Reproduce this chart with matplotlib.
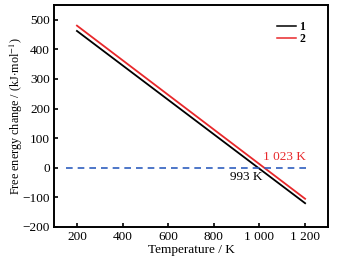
import matplotlib
matplotlib.use('Agg')
import matplotlib.pyplot as plt

plt.rcParams["font.family"] = 'Liberation Serif'
plt.rcParams["mathtext.fontset"] = 'stix'
plt.rcParams["font.size"] = 9.5

temp = [200, 1200]
dg1 = [462, -120]
dg2 = [480, -105]
zero_x = [150, 1225]
zero_y = [0, 0]

fig = plt.figure(figsize=(3.47, 2.59), dpi=100)
ax = fig.add_axes([0.156, 0.124, 0.789, 0.857])

ax.plot(temp, dg1, color='black', lw=1.3, label='1')
ax.plot(temp, dg2, color='#e8282b', lw=1.3, label='2')
ax.plot(zero_x, zero_y, color='#2f5fbf', lw=1.2, linestyle=(0, (4, 3)))

ax.text(1015, 25, '1 023 K', color='#e8282b', fontsize=9.5)
ax.text(870, -40, '993 K', color='black', fontsize=9.5)

ax.set_xlim(100, 1300)
ax.set_ylim(-200, 550)
ax.set_xticks([200, 400, 600, 800, 1000, 1200])
ax.set_xticklabels(['200', '400', '600', '800', '1 000', '1 200'])
ax.set_yticks([-200, -100, 0, 100, 200, 300, 400, 500])
ax.tick_params(direction='in', length=3, width=1.2, pad=3)
for s in ax.spines.values():
    s.set_linewidth(1.4)

leg = ax.legend(loc='upper right', frameon=False, handlelength=1.6,
                handletextpad=0.3, labelspacing=0.0,
                prop={'weight': 'bold', 'size': 8.5},
                bbox_to_anchor=(0.955, 0.975))
for h in leg.get_lines():
    h.set_linewidth(1.1)
ax.set_xlabel('Temperature / K', labelpad=1)
ax.set_ylabel(r'Free energy change / (kJ$\cdot$mol$^{-1}$)', fontsize=8.7)
ax.yaxis.set_label_coords(-0.105, 0.5)

plt.savefig('out.png', dpi=100)
